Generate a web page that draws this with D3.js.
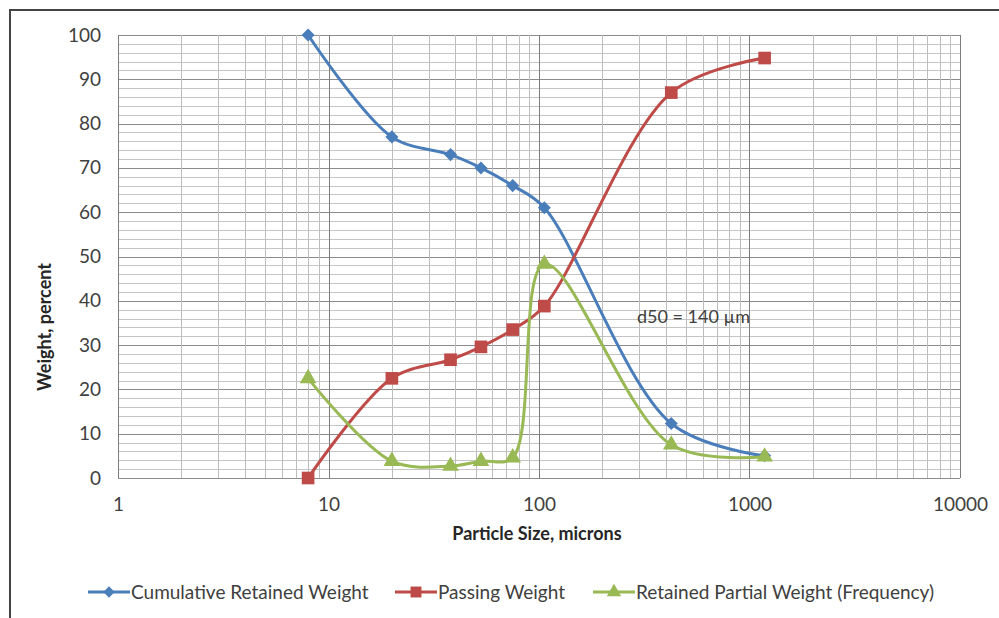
<!DOCTYPE html>
<html>
<head>
<meta charset="utf-8">
<script src="https://cdn.jsdelivr.net/npm/d3@7"></script>
<style>
  body { margin: 0; background: #fff; }
  svg { display: block; font-family: Lato, "Open Sans", sans-serif; }
</style>
</head>
<body>
<svg id="chart" width="999" height="618"></svg>
<script>
// sieve sizes (microns)
const sizes = [8, 20, 38, 53, 75, 106, 425, 1180];
// series values (percent)
const cumulativeRetained = [100, 77, 73, 70, 66, 61, 12.3, 5];
const passing = [0, 22.5, 26.7, 29.6, 33.5, 38.8, 87, 94.8];
const retainedPartial = [22.5, 3.8, 2.7, 3.8, 4.6, 48.3, 7.5, 4.8];

const xTicks = [1, 10, 100, 1000, 10000];
const yTicks = [0, 10, 20, 30, 40, 50, 60, 70, 80, 90, 100];

const series = [
  { name: "Cumulative Retained Weight", values: cumulativeRetained, color: "#4A7EBB", marker: "diamond" },
  { name: "Passing Weight", values: passing, color: "#BE4B48", marker: "square" },
  { name: "Retained Partial Weight (Frequency)", values: retainedPartial, color: "#98B954", marker: "triangle" }
];

const svg = d3.select("#chart");
const textColor = "#404040";

// outer frame
svg.append("rect")
  .attr("x", 10).attr("y", 10)
  .attr("width", 1000).attr("height", 620)
  .attr("fill", "#fff")
  .attr("stroke", "#444")
  .attr("stroke-width", 2);

const x = d3.scaleLog().domain([1, 10000]).range([118, 960]);
const y = d3.scaleLinear().domain([0, 100]).range([478, 35]);

// grid lines
const grid = svg.append("g");
const minorY = d3.range(0, 101, 2);
grid.selectAll(".hy")
  .data(minorY)
  .join("line")
    .attr("x1", x(1)).attr("x2", x(10000))
    .attr("y1", d => Math.round(y(d)) + 0.5).attr("y2", d => Math.round(y(d)) + 0.5)
    .attr("stroke", d => d % 10 === 0 ? "#8c8c8c" : "#c4c4c4")
    .attr("stroke-width", 1);

const minorX = [];
for (let p = 1; p <= 1000; p *= 10) {
  for (let k = 1; k <= 9; k++) minorX.push(p * k);
}
minorX.push(10000);
grid.selectAll(".vx")
  .data(minorX)
  .join("line")
    .attr("x1", d => Math.round(x(d)) + 0.5).attr("x2", d => Math.round(x(d)) + 0.5)
    .attr("y1", y(100)).attr("y2", y(0))
    .attr("stroke", d => xTicks.includes(d) ? "#7c7c7c" : "#bdbdbd")
    .attr("stroke-width", 1);

// axes
const xAxis = svg.append("g")
  .attr("transform", `translate(0,${y(0)})`)
  .call(d3.axisBottom(x).tickValues(xTicks).tickFormat(d3.format("d")).tickSize(0).tickPadding(20));
xAxis.select(".domain").remove();
xAxis.selectAll("text").attr("font-size", 19).attr("fill", textColor).attr("font-family", "Lato, sans-serif");

const yAxis = svg.append("g")
  .attr("transform", `translate(${x(1)},0)`)
  .call(d3.axisLeft(y).tickValues(yTicks).tickSize(0).tickPadding(17));
yAxis.select(".domain").remove();
yAxis.selectAll("text").attr("font-size", 19).attr("fill", textColor).attr("font-family", "Lato, sans-serif");

// axis titles
svg.append("text")
  .attr("x", 537).attr("y", 540)
  .attr("text-anchor", "middle")
  .attr("font-size", 18).attr("font-weight", "bold").attr("fill", "#262626")
  .text("Particle Size, microns");

svg.append("text")
  .attr("transform", "translate(51,327) rotate(-90)")
  .attr("text-anchor", "middle")
  .attr("font-size", 18).attr("font-weight", "bold").attr("fill", "#262626")
  .text("Weight, percent");

// lines
const line = d3.line()
  .x((d, i) => x(sizes[i]))
  .y(d => y(d))
  .curve(d3.curveCatmullRom.alpha(0.5));

function markerPath(type, s) {
  if (type === "diamond") return d3.symbol().type(d3.symbolSquare).size(s)();
  if (type === "square") return d3.symbol().type(d3.symbolSquare).size(s)();
  return d3.symbol().type(d3.symbolTriangle).size(s)();
}
const markerSize = { diamond: 85, square: 160, triangle: 120 };
const markerRot = { diamond: 45, square: 0, triangle: 0 };

series.forEach(s => {
  svg.append("path")
    .attr("d", line(s.values))
    .attr("fill", "none")
    .attr("stroke", s.color)
    .attr("stroke-width", 3);

  svg.append("g").selectAll("path")
    .data(s.values)
    .join("path")
      .attr("transform", (d, i) => `translate(${x(sizes[i])},${y(d)}) rotate(${markerRot[s.marker]})`)
      .attr("d", markerPath(s.marker, markerSize[s.marker]))
      .attr("fill", s.color);
});

// annotation
svg.append("text")
  .attr("x", 637).attr("y", 323)
  .attr("font-size", 18).attr("fill", textColor)
  .text("d50 = 140 µm");

// legend
const legendX = [88, 395, 593];
const legend = svg.append("g")
  .selectAll("g")
  .data(series)
  .join("g")
    .attr("transform", (d, i) => `translate(${legendX[i]},592)`);

legend.append("line")
  .attr("x1", 0).attr("x2", 42)
  .attr("stroke", d => d.color)
  .attr("stroke-width", 3);

legend.append("path")
  .attr("transform", d => `translate(21,0) rotate(${markerRot[d.marker]})`)
  .attr("d", d => markerPath(d.marker, markerSize[d.marker] * 0.75))
  .attr("fill", d => d.color);

legend.append("text")
  .attr("x", 43)
  .attr("dy", "0.35em")
  .attr("font-size", 19).attr("fill", textColor)
  .text(d => d.name);
</script>
</body>
</html>
